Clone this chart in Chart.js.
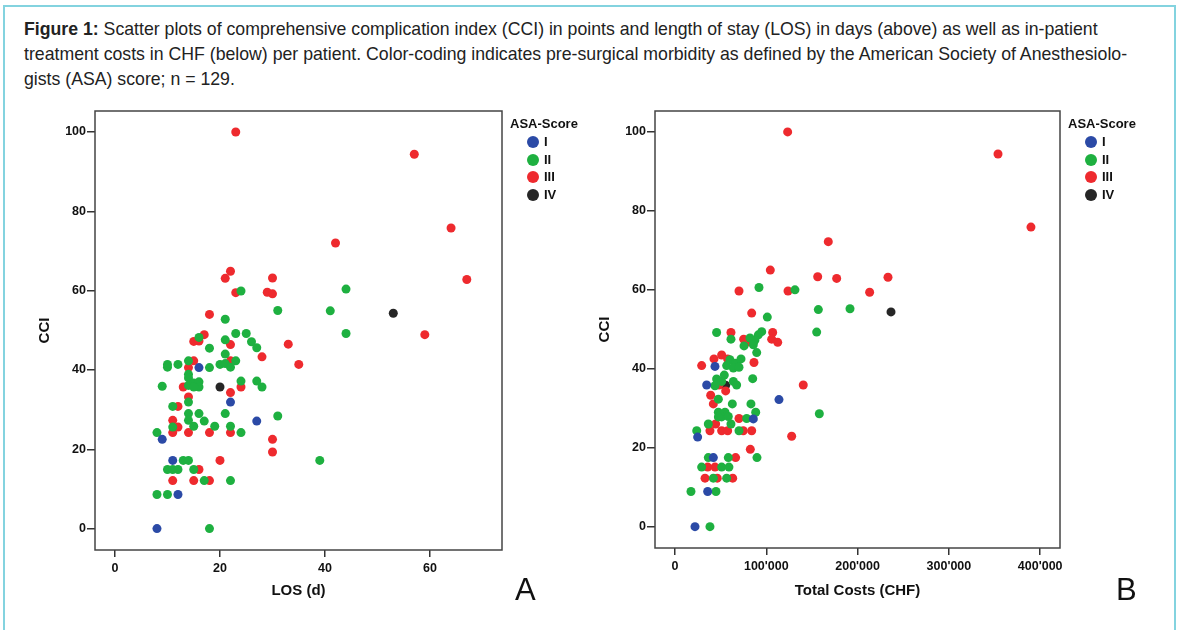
<!DOCTYPE html>
<html>
<head>
<meta charset="utf-8">
<script src="https://cdn.jsdelivr.net/npm/chart.js@4/dist/chart.umd.min.js"></script>
<style>
  body { margin: 0; width: 1179px; height: 630px; background: #fff; position: relative; overflow: hidden;
         font-family: "Liberation Sans", Arial, sans-serif; }
  .frame { position: absolute; left: 3px; top: 5px; width: 1169px; height: 640px; border: 2px solid #83d3df; }
  .caption { position: absolute; left: 24px; top: 17px; font-size: 17.7px; line-height: 25px; color: #222; white-space: nowrap; }
  canvas { position: absolute; }
  .legend { position: absolute; font-weight: bold; font-size: 13px; color: #111; }
  .legend .ttl { height: 18px; line-height: 18px; }
  .legend .item { height: 17.7px; line-height: 17.7px; padding-left: 17px; position: relative; }
  .legend .dot { position: absolute; left: 0; top: 3px; width: 12px; height: 12px; border-radius: 50%; }
  .panel { position: absolute; font-size: 31px; color: #111; }
</style>
</head>
<body>
<div class="frame"></div>
<div class="caption"><b>Figure 1:</b> Scatter plots of comprehensive complication index (CCI) in points and length of stay (LOS) in days (above) as well as in-patient<br>treatment costs in CHF (below) per patient. Color-coding indicates pre-surgical morbidity as defined by the American Society of Anesthesiolo-<br>gists (ASA) score; n = 129.</div>

<canvas id="chart-los" width="600" height="505" style="left:0px;top:100px;width:600px;height:505px"></canvas>
<canvas id="chart-cost" width="560" height="505" style="left:560px;top:100px;width:560px;height:505px"></canvas>

<div class="legend" id="legend-los" style="left:510px;top:115px"></div>
<div class="legend" id="legend-cost" style="left:1068px;top:115px"></div>

<div class="panel" style="left:515px;top:572px">A</div>
<div class="panel" style="left:1116px;top:572px">B</div>

<script>
// ASA groups and colours
const asaGroups = ['I', 'II', 'III', 'IV'];
const asaColors = ['#2b4aa6', '#1eb040', '#ee2a2e', '#262626'];

// Panel A: [LOS (d), CCI]
const losCciI = [[16,40.6],[22,31.9],[27,27.1],[9,22.5],[11,17.2],[12,8.6],[8,0]];
const losCciII = [[24,59.9],[31,55],[21,52.8],[23,49.2],[25,49.2],[16,48.2],[21,47.6],[26,47.1],[27,45.6],[18,45.5],
  [21,44],[10,41.4],[10,40.7],[12,41.4],[14,42.3],[20,41.4],[21,41.6],[22,40.7],[23,42.3],[18,40.6],
  [14,38.9],[14,38],[9,35.9],[14,36.1],[15,36.7],[16,37],[16,35.7],[15,35.7],[24,37.2],[27,37.2],
  [28,35.7],[14,31.9],[11,30.8],[14,29],[16,29],[21,29],[31,28.4],[14,27.3],[17,27.1],[11,25.6],
  [15,25.8],[19,25.8],[22,25.8],[8,24.2],[24,24.2],[13,17.2],[14,17.2],[10,14.9],[11,14.9],[12,14.9],
  [15,14.9],[17,12.1],[22,12.1],[8,8.6],[10,8.6],[18,0],[44,60.4],[41,54.9],[44,49.2],[39,17.2]];
const losCciIII = [[22,64.9],[21,63.1],[30,63.2],[23,59.5],[29,59.6],[30,59.2],[18,54],[17,48.9],[15,47.2],[16,47.3],
  [22,46.4],[33,46.5],[28,43.3],[15,42.3],[22,42.3],[35,41.4],[14,40.6],[13,35.7],[24,35.7],[22,34.3],
  [14,33.2],[12,30.8],[11,27.3],[12,25.6],[11,24.2],[14,24.2],[18,24.2],[22,24.2],[30,22.5],[30,19.3],
  [20,17.2],[16,14.9],[11,12.1],[15,12.1],[18,12.1],[23,100],[57,94.4],[64,75.8],[42,72],[67,62.8],[59,48.9]];
const losCciIV = [[20,35.7],[53,54.3]];

// Panel B: [Total costs (CHF), CCI]
const costCciI = [[43800,40.6],[34700,35.9],[113900,32.2],[85800,27.3],[24800,22.7],[42000,17.5],[35800,8.9],[21900,0]];
const costCciII = [[92000,60.6],[131400,60],[101100,53.1],[45600,49.2],[61300,47.5],[95000,49.4],[91300,48.6],[87600,47.3],
  [82100,47.8],[85800,46.1],[89500,44.1],[75600,45.8],[60200,42.3],[66500,41.4],[72300,42.5],[56600,40.8],
  [63900,40.2],[70100,40.4],[54000,38.4],[85100,37.5],[45600,37.4],[43800,35.7],[51100,36.8],[63900,36.8],
  [67500,35.9],[47500,32.3],[62800,31.1],[83200,31.1],[47500,29],[54800,29],[51100,27.8],[58400,27.9],
  [47500,27.8],[88400,29],[78500,27.4],[36500,26],[61300,26],[70100,24.3],[23800,24.3],[36500,17.5],
  [58400,17.5],[89800,17.5],[29200,15.1],[51100,15.1],[59100,15.1],[42000,12.3],[56600,12.3],[17500,8.9],
  [44900,8.9],[38300,0],[155200,49.3],[158100,28.6],[157000,55],[191700,55.2]];
const costCciIII = [[104400,65],[70100,59.7],[123800,59.7],[84000,54.1],[61300,49.2],[107000,49.2],[75200,47.5],
  [78500,46.7],[105900,47.5],[112500,46.7],[51100,43.5],[57700,42.5],[42700,42.5],[29200,40.8],[86500,41.6],
  [48200,35.9],[55500,34.4],[39100,33.3],[42000,31.1],[140500,35.9],[70100,27.4],[44500,26],[38300,24.3],
  [51100,24.3],[57700,24.3],[74800,24.3],[84000,24.3],[127800,22.9],[82500,19.6],[66400,17.5],[35800,15.1],
  [43800,15.1],[32900,12.3],[46300,12.3],[63200,12.3],[123400,100],[353800,94.4],[389900,75.9],[167900,72.2],
  [156300,63.3],[177100,62.9],[233300,63.2],[213200,59.4]];
const costCciIV = [[55500,35.8],[236600,54.4]];

// tick labels
const cciTicks = [0, 20, 40, 60, 80, 100];
const losTicks = [0, 20, 40, 60];
const costTicks = [0, 100000, 200000, 300000, 400000];

const tickFont = { family: '"Liberation Sans", Arial, sans-serif', size: 12.5, weight: 'bold' };
const titleFont = { family: '"Liberation Sans", Arial, sans-serif', size: 15, weight: 'bold' };

const boxPlugin = {
  id: 'box',
  afterDraw(chart) {
    const a = chart.chartArea, c = chart.ctx;
    c.save();
    c.strokeStyle = '#444';
    c.lineWidth = 1.5;
    c.strokeRect(a.left, a.top, a.right - a.left, a.bottom - a.top);
    c.restore();
  }
};

function toPoints(arr) {
  return arr.map(p => ({ x: p[0], y: p[1] }));
}

function fmtThousands(v) {
  return String(v).replace(/\B(?=(\d{3})+(?!\d))/g, "'");
}

function makeScatter(id, series, x, padRight, xAxisHeight) {
  const datasets = series.map((s, i) => ({
    label: asaGroups[i],
    data: toPoints(s),
    backgroundColor: asaColors[i],
    borderWidth: 0,
    pointRadius: 4.5,
    pointHoverRadius: 4.5
  }));
  const axisGrid = { display: true, drawOnChartArea: false, drawTicks: true, color: '#333', lineWidth: 1.5 };
  return new Chart(document.getElementById(id).getContext('2d'), {
    type: 'scatter',
    data: { datasets: datasets },
    options: {
      responsive: false,
      animation: false,
      events: [],
      layout: { padding: { left: 0, top: 11, right: padRight, bottom: 0 } },
      plugins: { legend: { display: false }, tooltip: { enabled: false } },
      scales: {
        x: {
          type: 'linear',
          min: x.min,
          max: x.max,
          afterBuildTicks: s => { s.ticks = x.ticks.map(v => ({ value: v })); },
          afterFit: s => { s.height = xAxisHeight; },
          border: { display: false },
          grid: Object.assign({ tickLength: 7 }, axisGrid),
          ticks: { font: tickFont, color: '#111', padding: 4, maxRotation: 0, callback: x.format },
          title: { display: true, text: x.title, font: titleFont, color: '#111', padding: { top: 0, bottom: 5 } }
        },
        y: {
          type: 'linear',
          min: -5.4,
          max: 105.3,
          afterBuildTicks: s => { s.ticks = cciTicks.map(v => ({ value: v })); },
          afterFit: s => { s.width = 95; },
          border: { display: false },
          grid: Object.assign({ tickLength: 8 }, axisGrid),
          ticks: { font: tickFont, color: '#111', padding: 1 },
          title: { display: true, text: 'CCI', font: titleFont, color: '#111', padding: { top: 36, bottom: 0 } }
        }
      }
    },
    plugins: [boxPlugin]
  });
}

makeScatter('chart-los', [losCciI, losCciII, losCciIII, losCciIV],
  { min: -3.8, max: 73.7, ticks: losTicks, title: 'LOS (d)', format: v => v }, 98, 55);

makeScatter('chart-cost', [costCciI, costCciII, costCciIII, costCciIV],
  { min: -21900, max: 421700, ticks: costTicks, title: 'Total Costs (CHF)', format: v => fmtThousands(v) }, 60, 57);

function buildLegend(id) {
  const el = document.getElementById(id);
  let html = '<div class="ttl">ASA-Score</div>';
  asaGroups.forEach((g, i) => {
    html += '<div class="item" style="margin-left:17px"><span class="dot" style="background:' + asaColors[i] + '"></span>' + g + '</div>';
  });
  el.innerHTML = html;
}
buildLegend('legend-los');
buildLegend('legend-cost');
</script>
</body>
</html>
